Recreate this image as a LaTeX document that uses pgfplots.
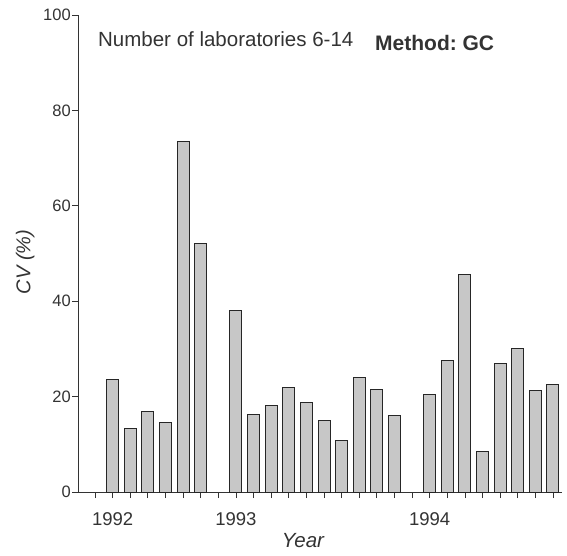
\documentclass[border=0pt]{standalone}
\usepackage{pgfplots}
\pgfplotsset{compat=1.18}
\usepackage{fontspec}
\setmainfont{Liberation Sans}
\frenchspacing
\definecolor{ink}{gray}{0.2}
\definecolor{barfill}{gray}{0.78}
\begin{document}
\begin{tikzpicture}
\begin{axis}[
  scale only axis,
  width=483.5pt, height=477pt,
  xmin=-0.95, xmax=26.5,
  ymin=0, ymax=100,
  axis lines*=left,
  axis line style={ink, line width=0.8pt},
  ytick={0,20,40,60,80,100},
  xtick={0,...,26},
  xticklabels={,1992,,,,,,,1993,,,,,,,,,,,1994,,,,,,,},
  tick align=outside,
  major tick length=6pt,
  tick style={ink, line width=0.8pt},
  /pgf/number format/assume math mode=true,
  yticklabel style={font=\fontsize{16.5}{19}\selectfont, text=ink, xshift=2pt},
  xticklabel style={font=\fontsize{18.5}{22}\selectfont, text=ink, yshift=-11pt},
  ylabel={\itshape CV (\%)},
  ylabel style={font=\fontsize{20}{24}\selectfont, text=ink, at={(axis description cs:-0.11,0.482)}, anchor=center},
  xlabel={\itshape Year},
  xlabel style={font=\fontsize{20.5}{24}\selectfont, text=ink, at={(axis description cs:0.4647,-0.1153)}, anchor=base},
  ybar, bar width=12pt,
  clip=false,
]
\addplot[draw=black!85, line width=1pt, fill=barfill] coordinates {
 (1,23.5) (2,13.4) (3,16.8) (4,14.6) (5,73.5) (6,52.1)
 (8,38.0) (9,16.3) (10,18.2) (11,21.9) (12,18.8) (13,15.0) (14,10.9) (15,24.1) (16,21.5) (17,16.1)
 (19,20.5) (20,27.6) (21,45.5) (22,8.4) (23,27.0) (24,30.0) (25,21.2) (26,22.6)
};
\node[anchor=base west, inner sep=0pt, text=ink, font=\fontsize{20.5}{24}\selectfont] at (rel axis cs:0.0407,0.9335) {Number of laboratories 6-14};
\node[anchor=base west, inner sep=0pt, text=ink, font=\fontsize{21}{25}\bfseries\selectfont] at (rel axis cs:0.6136,0.9266) {Method: GC};
\end{axis}
\path[use as bounding box] (-78.3pt,-63pt) rectangle (488.7pt,492pt);
\end{tikzpicture}
\end{document}
